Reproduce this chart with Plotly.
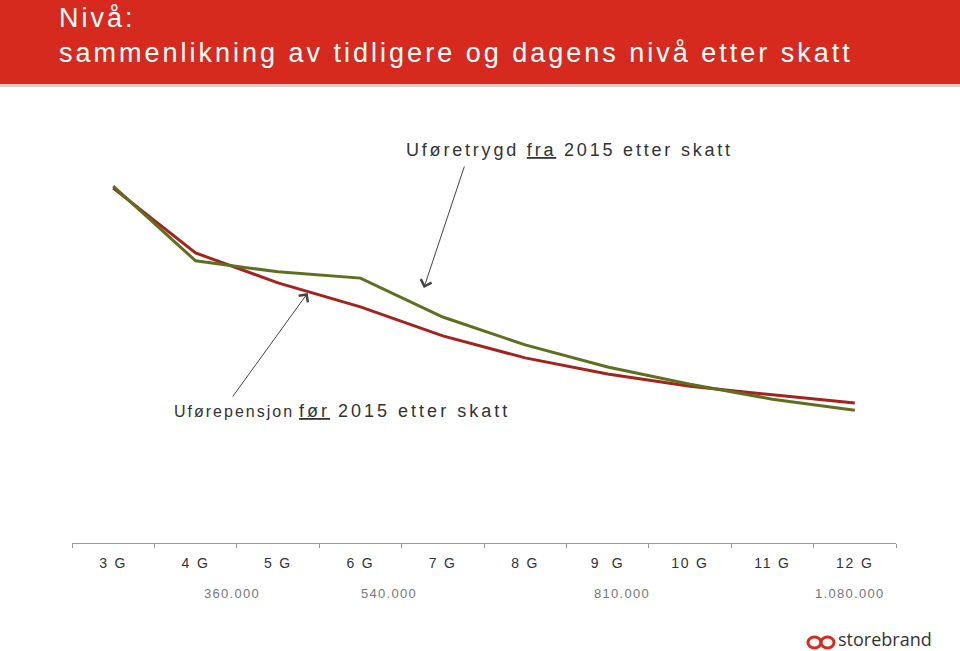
import plotly.graph_objects as go

# ---- data ----
categories = ["3 G", "4 G", "5 G", "6 G", "7 G", "8 G", "9  G", "10 G", "11 G", "12 G"]
for_2015 = [90.3, 73.8, 66.2, 60.1, 52.7, 47.1, 43.0, 39.9, 37.7, 35.6]   # Uførepensjon før 2015
fra_2015 = [90.8, 71.8, 69.0, 67.4, 57.5, 50.4, 44.8, 40.4, 36.6, 33.8]   # Uføretrygd fra 2015
amount_labels = ["360.000", "540.000", "810.000", "1.080.000"]
amount_pos = [1.44, 3.35, 6.17, 8.94]

title_line1 = "Nivå:"
title_line2 = "sammenlikning av tidligere og dagens nivå etter skatt"
label_fra = "Uføretrygd <u>fra</u> 2015 etter skatt"
label_for_a = "Uførepensjon"
label_for_b = "<u>før</u> 2015 etter skatt"

# ---- layout geometry ----
W, H = 960, 651
L, R, T, B = 72, 64, 150, 108
PW, PH = W - L - R, H - T - B


def px(x):
    return (x - L) / PW


def py(y):
    return (H - B - y) / PH


RED = "#A3231D"
GREEN = "#5E6F1F"
BAND = "#D62A1F"
FONT = "Liberation Sans, Arial, sans-serif"


def sp(text, ls, size=None):
    st = f"letter-spacing:{ls}px"
    if size:
        st += f";font-size:{size}px"
    return f'<span style="{st}">{text}</span>'


fig = go.Figure()
fig.add_trace(go.Scatter(x=categories, y=for_2015, mode="lines",
                         line=dict(color=RED, width=3), name="Uførepensjon før 2015"))
fig.add_trace(go.Scatter(x=categories, y=fra_2015, mode="lines",
                         line=dict(color=GREEN, width=3), name="Uføretrygd fra 2015"))

shapes = [
    dict(type="rect", xref="paper", yref="paper", x0=px(0), x1=px(W), y0=py(84), y1=py(0),
         fillcolor=BAND, line=dict(width=0), layer="below"),
    dict(type="rect", xref="paper", yref="paper", x0=px(0), x1=px(W), y0=py(87), y1=py(84),
         fillcolor="#E9C9C6", line=dict(width=0), layer="below"),
    # storebrand logo loops
    dict(type="circle", xref="paper", yref="paper", x0=px(808), x1=px(821), y0=py(648), y1=py(637),
         line=dict(color="#D62A1F", width=3)),
    dict(type="circle", xref="paper", yref="paper", x0=px(821), x1=px(834), y0=py(648), y1=py(637),
         line=dict(color="#D62A1F", width=3)),
]

annotations = [
    dict(text=sp(title_line1, 3.0), xref="paper", yref="paper", x=px(57), y=py(18),
         xanchor="left", yanchor="middle", showarrow=False,
         font=dict(family=FONT, size=27, color="white")),
    dict(text=sp(title_line2, 3.0), xref="paper", yref="paper", x=px(57), y=py(53),
         xanchor="left", yanchor="middle", showarrow=False,
         font=dict(family=FONT, size=27, color="white")),
    dict(text=sp(label_fra, 2.8), xref="paper", yref="paper", x=px(569), y=py(150),
         xanchor="center", yanchor="middle", showarrow=False,
         font=dict(family=FONT, size=18, color="#333333")),
    dict(text=sp(label_for_a, 2.0, 16) + " " + sp(label_for_b, 3.0), xref="paper", yref="paper",
         x=px(342), y=py(411), xanchor="center", yanchor="middle", showarrow=False,
         font=dict(family=FONT, size=18, color="#333333")),
    # arrows
    dict(text="", x=3.77, y=(543 - 288) / PH * 100, xref="x", yref="y",
         ax=41, ay=-123, showarrow=True, arrowhead=4, arrowsize=2.2, arrowwidth=1,
         arrowcolor="#444444", standoff=0, startstandoff=0),
    dict(text="", x=2.36, y=(543 - 293) / PH * 100, xref="x", yref="y",
         ax=-76, ay=105, showarrow=True, arrowhead=4, arrowsize=2.2, arrowwidth=1,
         arrowcolor="#444444", standoff=0, startstandoff=0),
    dict(text="storebrand", xref="paper", yref="paper", x=px(837), y=py(639),
         xanchor="left", yanchor="middle", showarrow=False, borderpad=0,
         font=dict(family="Open Sans, sans-serif", size=18, color="#333333")),
]

for lab, pos in zip(amount_labels, amount_pos):
    annotations.append(dict(text=sp(lab, 1.3), x=pos, xref="x", yref="paper", y=py(593),
                            xanchor="center", yanchor="middle", showarrow=False,
                            font=dict(family=FONT, size=13, color="#777777")))

fig.update_layout(
    width=W, height=H,
    margin=dict(l=L, r=R, t=T, b=B, pad=0),
    paper_bgcolor="white", plot_bgcolor="white",
    showlegend=False,
    shapes=shapes,
    annotations=annotations,
    xaxis=dict(type="category", range=[-0.5, len(categories) - 0.5],
               tickmode="array", tickvals=categories,
               ticktext=[sp(c, 1.8) for c in categories],
               tickson="boundaries", ticks="outside", ticklen=4, tickcolor="#999999",
               showline=True, linecolor="#999999", linewidth=1, showgrid=False, zeroline=False,
               tickfont=dict(family=FONT, size=14, color="#333333"), ticklabelstandoff=7,
               fixedrange=True),
    yaxis=dict(range=[0, 100], visible=False, showgrid=False, zeroline=False, fixedrange=True),
)

fig.write_html("out.html")
